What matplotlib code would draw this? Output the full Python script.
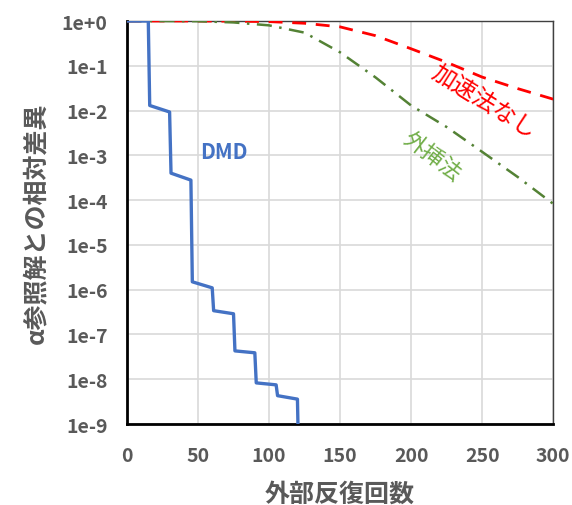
import numpy as np
import matplotlib
matplotlib.use('Agg')
import matplotlib.pyplot as plt

plt.rcParams['font.family'] = ['Noto Sans CJK JP', 'DejaVu Sans']

# DMD (step-like convergence)
dmd_iter = [0, 15, 16, 30, 31, 45, 46, 60, 61, 75, 76, 90, 91, 105, 106, 120, 121]
dmd_err = [1.0, 1.0, 1.3e-2, 9.3e-3, 4.0e-4, 2.8e-4, 1.5e-6, 1.1e-6, 3.4e-7,
           2.9e-7, 4.3e-8, 3.9e-8, 8.3e-9, 7.5e-9, 4.3e-9, 3.6e-9, 1e-10]

# no acceleration
plain_iter = [0, 50, 75, 100, 125, 150, 175, 200, 225, 250, 275, 300]
plain_err = [1.0, 1.0, 0.99, 0.97, 0.89, 0.74, 0.47, 0.24, 0.12, 0.056, 0.031, 0.018]

# extrapolation
extra_iter = [0, 25, 50, 75, 100, 125, 150, 175, 200, 225, 250, 275, 300]
extra_err = [1.0, 1.0, 0.99, 0.93, 0.8, 0.55, 0.2, 0.055, 1.3e-2, 4.3e-3, 1.2e-3, 3.3e-4, 8.3e-5]

yticks = [1e0, 1e-1, 1e-2, 1e-3, 1e-4, 1e-5, 1e-6, 1e-7, 1e-8, 1e-9]
ylabels = ['1e+0', '1e-1', '1e-2', '1e-3', '1e-4', '1e-5', '1e-6', '1e-7', '1e-8', '1e-9']
xticks = [0, 50, 100, 150, 200, 250, 300]

gray = '#595959'

fig = plt.figure(figsize=(5.72, 5.06), dpi=100)
ax = fig.add_axes([0.222, 0.160, 0.745, 0.7965])

ax.plot(plain_iter, plain_err, color='#FF0000', lw=2.0, ls=(0, (5, 3.5)), zorder=3)
ax.plot(extra_iter, extra_err, color='#548235', lw=1.8, ls=(0, (6, 3, 1, 3)), zorder=3)
ax.plot(dmd_iter, dmd_err, color='#4472C4', lw=2.4, zorder=4)

ax.set_yscale('log')
ax.set_ylim(1e-9, 1e0)
ax.set_xlim(0, 300)
ax.set_yticks(yticks)
ax.set_yticklabels(ylabels)
ax.yaxis.set_minor_locator(matplotlib.ticker.NullLocator())
ax.set_xticks(xticks)
ax.grid(True, color='#D9D9D9', lw=1.2)
ax.set_axisbelow(True)
ax.tick_params(length=0, labelsize=14, labelcolor=gray)
ax.tick_params(axis='x', pad=16)
ax.tick_params(axis='y', pad=14)
for t in ax.get_xticklabels() + ax.get_yticklabels():
    t.set_fontweight('bold')

for s in ['left', 'bottom']:
    ax.spines[s].set_linewidth(2)
    ax.spines[s].set_color('black')
for s in ['top', 'right']:
    ax.spines[s].set_linewidth(1)
    ax.spines[s].set_color('#404040')

ax.set_xlabel('外部反復回数', fontsize=18, fontweight='bold', color=gray, labelpad=12)
ax.set_ylabel('α参照解との相対差異', fontsize=18, fontweight='bold', color=gray, labelpad=10)

ax.text(68, 1.2e-3, 'DMD', color='#4472C4', fontsize=15, fontweight='bold',
        ha='center', va='center')
ax.text(251, 1.6e-2, '加速法なし', color='#FF0000', fontsize=17,
        ha='center', va='center', rotation=-32)
ax.text(215, 1.0e-3, '外挿法', color='#70AD47', fontsize=16,
        ha='center', va='center', rotation=-38)

fig.savefig('out.png', dpi=100)
